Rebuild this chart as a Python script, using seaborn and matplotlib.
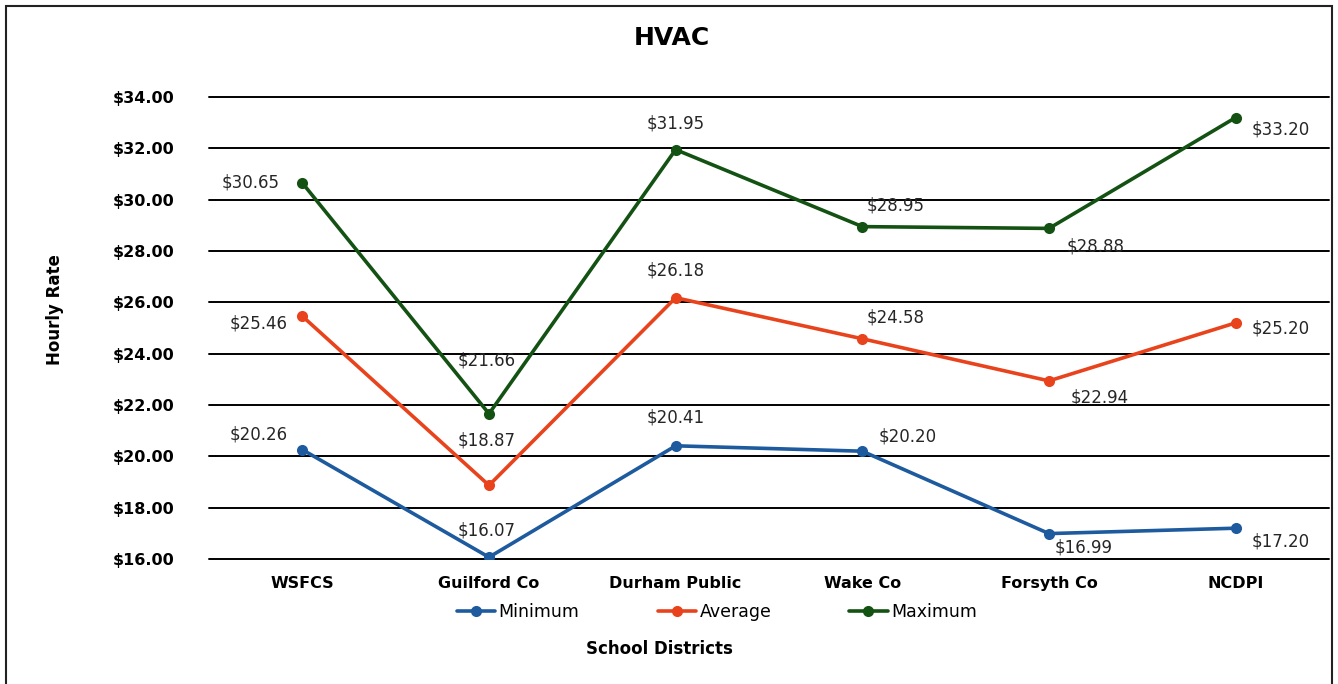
import matplotlib
matplotlib.use("Agg")
import matplotlib.pyplot as plt
import seaborn as sns
import pandas as pd
from matplotlib.patches import Rectangle

districts = ["WSFCS", "Guilford Co", "Durham Public", "Wake Co", "Forsyth Co", "NCDPI"]
minimum = [20.26, 16.07, 20.41, 20.20, 16.99, 17.20]
average = [25.46, 18.87, 26.18, 24.58, 22.94, 25.20]
maximum = [30.65, 21.66, 31.95, 28.95, 28.88, 33.20]
series_names = ["Minimum", "Average", "Maximum"]
yticks = [16, 18, 20, 22, 24, 26, 28, 30, 32, 34]

colors = {"Minimum": "#1d5a9e", "Average": "#e8431c", "Maximum": "#145214"}

rows = []
for name, vals in zip(series_names, [minimum, average, maximum]):
    for d, v in zip(districts, vals):
        rows.append({"District": d, "Rate": v, "Series": name})
df = pd.DataFrame(rows)

sns.set_theme(style="white")
plt.rcParams["font.family"] = ["DejaVu Sans"]
plt.rcParams["text.color"] = "black"
plt.rcParams["xtick.color"] = "black"
plt.rcParams["ytick.color"] = "black"

fig = plt.figure(figsize=(13.38, 6.84), dpi=100)
ax = fig.add_axes([209/1338, 1-559/684, (1329-209)/1338, (559-97)/684])

sns.lineplot(data=df, x="District", y="Rate", hue="Series", palette=colors,
             marker="o", markersize=8, linewidth=2.6, markeredgewidth=0,
             sort=False, ax=ax, legend=True)

ax.set_xlim(-0.5, 5.5)
ax.set_ylim(16, 34)
ax.set_yticks(yticks)
ax.set_yticklabels([f"${t:.2f}" for t in yticks], fontsize=11.5, fontweight="bold", color="black")
ax.set_xticks(range(len(districts)))
ax.set_xticklabels(districts, fontsize=11.5, fontweight="bold", color="black")
ax.tick_params(axis="both", length=0)
ax.tick_params(axis="y", pad=25)
ax.tick_params(axis="x", pad=12)
ax.yaxis.grid(True, color="black", linewidth=1.4)
for gl in ax.get_ygridlines():
    gl.set_clip_on(False)
ax.set_axisbelow(True)
for s in ax.spines.values():
    s.set_visible(False)
ax.set_xlabel("")
ax.set_ylabel("")

# label offsets in pixels (dx, dy) relative to point, screen coords (dy up)
offsets = {
    "Maximum": [(-52, 0), (-2, 53), (0, 26), (33, 21), (47, -18), (45, -12)],
    "Average": [(-44, -7), (-2, 45), (0, 27), (33, 21), (51, -17), (45, -6)],
    "Minimum": [(-44, 15), (-2, 27), (0, 28), (45, 15), (35, -14), (45, -13)],
}
for name, vals in zip(series_names, [minimum, average, maximum]):
    for i, v in enumerate(vals):
        dx, dy = offsets[name][i]
        ax.annotate(f"${v:.2f}", (i, v), xytext=(dx*0.72, dy*0.72),
                    textcoords="offset points", ha="center", va="center",
                    fontsize=12, color="#262626")

ax.legend_.remove()
handles, labels = ax.get_legend_handles_labels()
leg = fig.legend(handles, labels, loc="center", bbox_to_anchor=(717/1338, 1-612/684),
                 ncol=3, frameon=False, fontsize=12.5, columnspacing=4.5,
                 handlelength=2.2, handletextpad=0.2)
for t in leg.get_texts():
    t.set_color("black")

fig.text(672/1338, 1-38/684, "HVAC", ha="center", va="center", fontsize=18,
         fontweight="bold", color="black")
fig.text(659/1338, 1-649/684, "School Districts", ha="center", va="center", fontsize=12,
         fontweight="bold", color="black")
fig.text(55/1338, 1-310/684, "Hourly Rate", ha="center", va="center", fontsize=12,
         fontweight="bold", rotation=90, color="black")

fig.patches.append(Rectangle((6/1338, -0.01), 1326/1338, 1-6/684+0.01, transform=fig.transFigure,
                             fill=False, edgecolor="#222222", linewidth=1.5))

fig.savefig("out.png", dpi=100, facecolor="white")
